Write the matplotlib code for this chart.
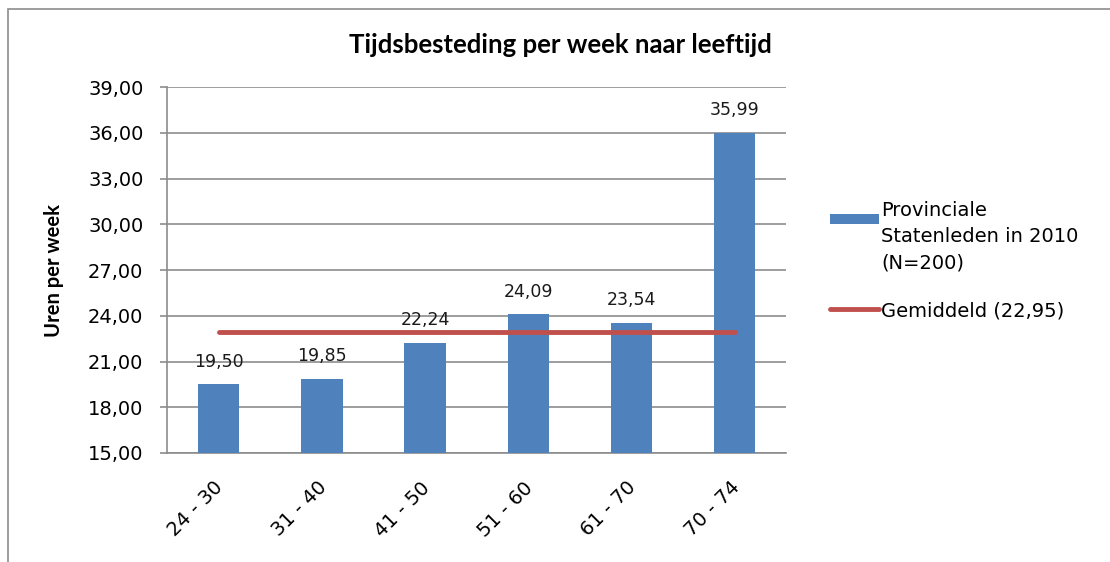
import matplotlib.pyplot as plt
import numpy as np
from matplotlib.patches import Rectangle
from matplotlib.legend_handler import HandlerPatch
from matplotlib.transforms import ScaledTranslation

# data
leeftijd = ["24 - 30", "31 - 40", "41 - 50", "51 - 60", "61 - 70", "70 - 74"]
uren = [19.50, 19.85, 22.24, 24.09, 23.54, 35.99]
gemiddeld = 22.95

plt.rcParams['font.family'] = ['DejaVu Sans']

fig = plt.figure(figsize=(11.1, 5.62), dpi=100)
# outer chart border (only left and top show in the reference)
fig.patches.append(Rectangle((8 / 1110, -0.1), 1.2, 1 - 9 / 562 + 0.1,
                             transform=fig.transFigure, fill=False,
                             edgecolor='#8c8c8c', linewidth=1.2))

ax = fig.add_axes([0.1505, 0.194, 0.558, 0.651])
x = np.arange(len(leeftijd))
bars = ax.bar(x, uren, width=0.4, color='#4f81bd', zorder=3)
lijn, = ax.plot([x[0], x[-1]], [gemiddeld, gemiddeld], color='#c0504d', linewidth=3.5,
                solid_capstyle='round', zorder=4)

for xi, v in zip(x, uren):
    ax.text(xi, v + 0.9, f"{v:.2f}".replace('.', ','), ha='center', va='bottom',
            fontsize=12.5, color='#1a1a1a', zorder=5)

ax.set_xlim(-0.5, len(leeftijd) - 0.5)
ax.set_ylim(15, 39)
yt = np.arange(15, 40, 3)
ax.set_yticks(yt)
ax.set_yticklabels([f"{t:.2f}".replace('.', ',') for t in yt], fontsize=14)
ax.set_xticks(x)
ax.set_xticklabels(leeftijd, rotation=45, ha='right', rotation_mode='anchor', fontsize=14)
ax.tick_params(axis='x', length=0, pad=8)
ax.tick_params(axis='y', length=5, color='#8c8c8c', width=1.2, pad=12)
# move the slanted labels a little down and to the left
shift = ScaledTranslation(-5 / 100, -14 / 100, fig.dpi_scale_trans)
for lbl in ax.get_xticklabels():
    lbl.set_transform(lbl.get_transform() + shift)
ax.grid(axis='y', color='#8c8c8c', linewidth=1.2, zorder=0)
ax.set_axisbelow(True)
for s in ['top', 'right']:
    ax.spines[s].set_visible(False)
for s in ['left', 'bottom']:
    ax.spines[s].set_color('#8c8c8c')
    ax.spines[s].set_linewidth(1.2)

ax.set_ylabel('Uren per week', fontsize=14.5, fontweight='bold', labelpad=17,
              family=['Lato', 'DejaVu Sans'])
fig.text(0.505, 0.92, 'Tijdsbesteding per week naar leeftijd', ha='center', va='center',
         fontsize=18.5, fontweight='bold', family=['Lato', 'DejaVu Sans'])


# legend patch sits next to the first line of the three-line label
def bar_top(legend, orig_handle, xdescent, ydescent, width, height, fontsize):
    return Rectangle((-xdescent, -ydescent + fontsize * 1.05), width, height * 0.7)


leg = ax.legend([bars[0], lijn],
                ['Provinciale\nStatenleden in 2010\n(N=200)', 'Gemiddeld (22,95)'],
                loc='upper left', bbox_to_anchor=(1.042, 0.737), frameon=False,
                fontsize=14, handlelength=2.5, handletextpad=0.15, labelspacing=1.46,
                handler_map={bars[0]: HandlerPatch(patch_func=bar_top)})
for t in leg.get_texts():
    t.set_linespacing(1.5)

fig.savefig('out.png', dpi=100)
